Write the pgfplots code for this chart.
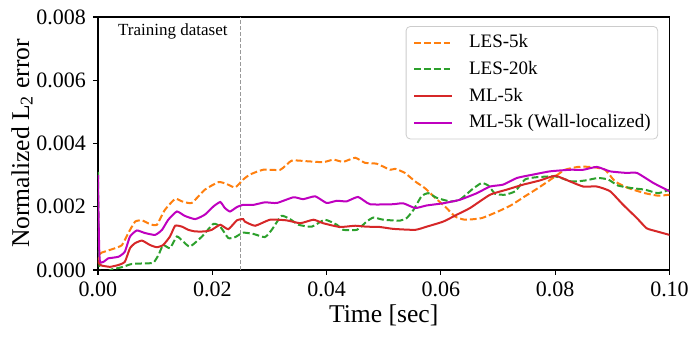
\documentclass[border=0pt]{standalone}
\usepackage{fontspec}
\setmainfont{Liberation Serif}
\usepackage{pgfplots}
\pgfplotsset{compat=1.18}
\definecolor{lesfive}{HTML}{FF7F0E}
\definecolor{lestwenty}{HTML}{2CA02C}
\definecolor{mlfive}{HTML}{D62728}
\definecolor{mlwall}{HTML}{BF00BF}
\begin{document}
\begin{tikzpicture}
\path[use as bounding box] (-49pt,-34pt) rectangle (300pt,135pt);
\begin{axis}[
  scale only axis,
  width=285.75pt,
  height=126.5pt,
  xmin=0, xmax=0.1,
  ymin=0, ymax=0.008,
  xtick={0,0.02,0.04,0.06,0.08,0.1},
  ytick={0,0.002,0.004,0.006,0.008},
  scaled ticks=false,
  tick pos=left,
  tick align=outside,
  major tick length=2.5pt,
  axis line style={line width=0.6pt},
  every tick/.style={black, line width=0.6pt},
  /pgf/number format/assume math mode=true,
  xticklabel style={/pgf/number format/.cd, fixed, fixed zerofill, precision=2},
  yticklabel style={/pgf/number format/.cd, fixed, fixed zerofill, precision=3},
  tick label style={font=\fontsize{11}{13}\selectfont},
  xlabel={Time [sec]},
  ylabel={Normalized L\textsubscript{2} error},
  every axis x label/.style={at={(axis description cs:0.5,-0.2095)}, anchor=base,
    font=\fontsize{12.8}{15}\selectfont},
  every axis y label/.style={at={(axis description cs:-0.133,0.5)}, rotate=90, anchor=center,
    font=\fontsize{12.8}{15}\selectfont},
  legend style={at={(0.98,0.964)}, anchor=north east, draw=black!20, fill=white,
    rounded corners=2pt, line width=0.4pt, inner xsep=3.5pt, inner ysep=1.3pt,
    font=\fontsize{9.5}{11}\selectfont,
    nodes={inner xsep=0pt, inner ysep=2.2pt, text height=7pt, text depth=2pt},
    /tikz/every odd column/.append style={column sep=8pt}},
  legend cell align=left,
  legend image code/.code={\draw[#1] (0pt,0pt) -- (19pt,0pt);},
  every axis plot/.append style={line width=1pt, smooth, tension=0.3},
]
\addplot[forget plot, black!40, line width=0.4pt, dash pattern=on 2pt off 1pt, sharp plot]
  coordinates {(0.025,0) (0.025,0.008)};
\node[anchor=base, font=\fontsize{8.5}{10}\selectfont] at (axis cs:0.0131,0.00743) {Training dataset};

\addplot[lesfive, dash pattern=on 3.4pt off 1.5pt] coordinates {
(0,0.00020) (0.0003,0.00050) (0.00065,0.00055) (0.0030,0.00069) (0.0042,0.00079)
(0.0053,0.00117) (0.0065,0.00153) (0.0077,0.00157) (0.0091,0.00145) (0.0103,0.00143)
(0.0117,0.00190) (0.0135,0.00225) (0.0147,0.00217) (0.0164,0.00212) (0.0187,0.00254)
(0.0211,0.00278) (0.0225,0.00272) (0.0240,0.00261) (0.0254,0.00286) (0.0266,0.00302)
(0.0289,0.00317) (0.0319,0.00317) (0.0339,0.00346) (0.0365,0.00344) (0.0394,0.00341)
(0.0412,0.00349) (0.0429,0.00342) (0.0450,0.00355) (0.0467,0.00339) (0.0488,0.00336)
(0.0511,0.00317) (0.0520,0.00320) (0.0537,0.00307) (0.0555,0.00280) (0.0572,0.00259)
(0.0590,0.00228) (0.0607,0.00201) (0.0625,0.00169) (0.0642,0.00159) (0.0671,0.00164)
(0.0700,0.00185) (0.0724,0.00206) (0.0747,0.00233) (0.0770,0.00259) (0.0800,0.00296)
(0.0817,0.00317) (0.0840,0.00326) (0.0864,0.00326) (0.0887,0.00317) (0.0905,0.00280)
(0.0928,0.00259) (0.0957,0.00243) (0.0980,0.00235) (0.1000,0.00238)
};
\addlegendentry{LES-5k}

\addplot[lestwenty, dash pattern=on 3.4pt off 1.5pt] coordinates {
(0,0.00310) (0.0003,0.00000) (0.0024,0.00002) (0.0042,0.00009) (0.0059,0.00019)
(0.0082,0.00021) (0.0097,0.00023) (0.0106,0.00048) (0.0114,0.00079) (0.0126,0.00069)
(0.0138,0.00106) (0.0149,0.00090) (0.0161,0.00074) (0.0182,0.00106) (0.0202,0.00146)
(0.0214,0.00137) (0.0228,0.00101) (0.0240,0.00104) (0.0254,0.00118) (0.0272,0.00114)
(0.0292,0.00104) (0.0304,0.00127) (0.0321,0.00171) (0.0336,0.00161) (0.0351,0.00143)
(0.0374,0.00137) (0.0397,0.00159) (0.0418,0.00143) (0.0429,0.00127) (0.0453,0.00127)
(0.0470,0.00153) (0.0482,0.00166) (0.0499,0.00159) (0.0528,0.00156) (0.0540,0.00164)
(0.0552,0.00190) (0.0566,0.00233) (0.0578,0.00243) (0.0593,0.00228) (0.0616,0.00217)
(0.0633,0.00222) (0.0654,0.00254) (0.0671,0.00275) (0.0683,0.00267) (0.0695,0.00241)
(0.0712,0.00238) (0.0730,0.00249) (0.0747,0.00286) (0.0765,0.00293) (0.0800,0.00296)
(0.0829,0.00280) (0.0852,0.00283) (0.0875,0.00291) (0.0893,0.00286) (0.0910,0.00267)
(0.0934,0.00259) (0.0957,0.00254) (0.0980,0.00243) (0.1000,0.00254)
};
\addlegendentry{LES-20k}

\addplot[mlfive] coordinates {
(0,0.00030) (0.0003,0.00018) (0.00065,0.00014) (0.0021,0.00010) (0.0036,0.00016)
(0.0047,0.00026) (0.0056,0.00069) (0.0065,0.00085) (0.0077,0.00093) (0.0091,0.00079)
(0.0103,0.00072) (0.0114,0.00079) (0.0126,0.00106) (0.0135,0.00140) (0.0147,0.00137)
(0.0158,0.00127) (0.0170,0.00122) (0.0187,0.00122) (0.0199,0.00127) (0.0214,0.00143)
(0.0228,0.00129) (0.0243,0.00157) (0.0254,0.00161) (0.0257,0.00153) (0.0275,0.00140)
(0.0301,0.00159) (0.0330,0.00157) (0.0354,0.00148) (0.0377,0.00159) (0.0394,0.00148)
(0.0423,0.00136) (0.0450,0.00140) (0.0470,0.00137) (0.0493,0.00136) (0.0517,0.00130)
(0.0555,0.00127) (0.0575,0.00137) (0.0604,0.00153) (0.0628,0.00175) (0.0651,0.00196)
(0.0686,0.00238) (0.0715,0.00254) (0.0744,0.00270) (0.0773,0.00283) (0.0800,0.00298)
(0.0826,0.00280) (0.0849,0.00264) (0.0873,0.00264) (0.0896,0.00249) (0.0919,0.00206)
(0.0943,0.00164) (0.0960,0.00132) (0.0978,0.00122) (0.1000,0.00111)
};
\addlegendentry{ML-5k}

\addplot[mlwall] coordinates {
(0,0.00300) (0.0003,0.00032) (0.0018,0.00037) (0.0036,0.00042) (0.0047,0.00058)
(0.0056,0.00106) (0.0068,0.00125) (0.0082,0.00117) (0.0100,0.00111) (0.0112,0.00127)
(0.0123,0.00159) (0.0138,0.00185) (0.0152,0.00171) (0.0170,0.00161) (0.0187,0.00175)
(0.0202,0.00201) (0.0214,0.00215) (0.0222,0.00196) (0.0231,0.00185) (0.0243,0.00199)
(0.0254,0.00206) (0.0272,0.00206) (0.0292,0.00214) (0.0313,0.00212) (0.0342,0.00230)
(0.0359,0.00224) (0.0380,0.00233) (0.0400,0.00212) (0.0418,0.00219) (0.0435,0.00217)
(0.0455,0.00231) (0.0476,0.00208) (0.0516,0.00208) (0.0534,0.00211) (0.0555,0.00196)
(0.0575,0.00204) (0.0604,0.00211) (0.0633,0.00222) (0.0663,0.00243) (0.0686,0.00264)
(0.0709,0.00270) (0.0733,0.00291) (0.0762,0.00302) (0.0791,0.00312) (0.0826,0.00317)
(0.0849,0.00317) (0.0873,0.00326) (0.0896,0.00312) (0.0925,0.00307) (0.0943,0.00307)
(0.0972,0.00275) (0.1000,0.00249)
};
\addlegendentry{ML-5k (Wall-localized)}
\end{axis}
\end{tikzpicture}
\end{document}
